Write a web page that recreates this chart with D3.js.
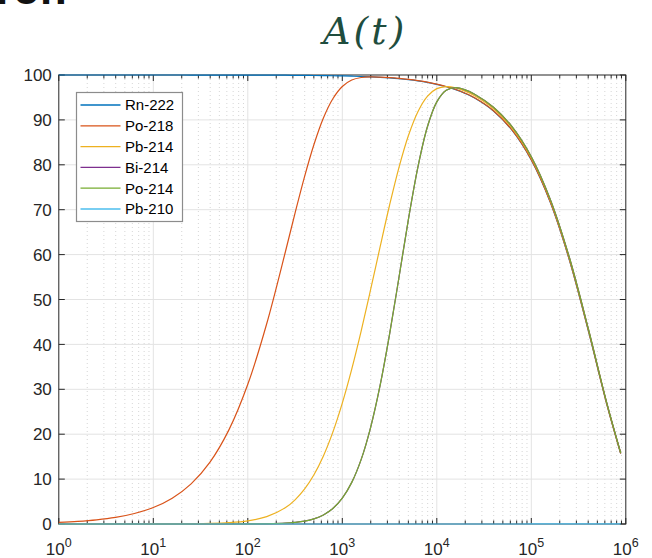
<!DOCTYPE html>
<html>
<head>
<meta charset="utf-8">
<script src="https://cdn.jsdelivr.net/npm/d3@7"></script>
<style>
  body { margin: 0; background: #fff; }
  svg { display: block; font-family: "Liberation Sans", Arial, sans-serif; }
</style>
</head>
<body>
<script>
// time samples (s), read on a log axis
const times = [1, 1.585, 2.512, 3.981, 6.31, 10, 15.85, 25.12, 39.81, 63.1,
  100, 158.5, 251.2,
  316.2, 398.1, 501.2, 631, 794.3, 1000, 1259, 1585, 1995, 2512, 3162, 3981, 5012, 6310, 7943,
  1e4, 12590, 15850, 19950,
  25120, 39810, 63100, 1e5, 158500, 251200, 398100, 631000, 883000];

const rn222 = [100, 100, 100, 100, 100, 100, 100, 99.99, 99.99, 99.99,
  99.98, 99.97, 99.95,
  99.93, 99.92, 99.89, 99.87, 99.83, 99.79, 99.74, 99.67, 99.58, 99.47, 99.34, 99.17, 98.95, 98.68, 98.35,
  97.92, 97.39, 96.73, 95.9,
  94.87, 91.99, 87.6, 81.07, 71.71, 59.03, 43.37, 26.61, 15.7];
const po218 = [0.37, 0.59, 0.93, 1.47, 2.33, 3.66, 5.74, 8.94, 13.79, 20.96,
  31.12, 44.6, 60.8,
  69.23, 77.32, 84.52, 90.43, 94.72, 97.45, 98.88, 99.45, 99.58, 99.52, 99.4, 99.23, 99.01, 98.74, 98.41,
  97.97, 97.44, 96.78, 95.95,
  94.92, 92.04, 87.65, 81.12, 71.75, 59.06, 43.39, 26.62, 15.71];
const pb214 = [0, 0, 0, 0, 0, 0.01, 0.02, 0.05, 0.12, 0.29,
  0.7, 1.63, 3.65,
  5.38, 7.76, 10.96, 15.16, 20.46, 26.93, 34.5, 43.02, 52.23, 61.72, 70.99, 79.44, 86.52, 91.83, 95.24,
  96.96, 97.43, 97.14, 96.4,
  95.39, 92.49, 88.08, 81.51, 72.1, 59.35, 43.61, 26.76, 15.79];
const bi214 = [0, 0, 0, 0, 0, 0, 0, 0, 0, 0,
  0.02, 0.05, 0.18,
  0.35, 0.63, 1.15, 2.01, 3.45, 5.76, 9.27, 14.4, 21.54, 30.85, 42.22, 54.95, 67.89, 79.49, 88.41,
  94.01, 96.6, 97.18, 96.7,
  95.72, 92.83, 88.4, 81.81, 72.36, 59.57, 43.76, 26.85, 15.85];
const po214 = [0, 0, 0, 0, 0, 0, 0, 0, 0, 0,
  0.02, 0.05, 0.18,
  0.35, 0.63, 1.15, 2.01, 3.45, 5.76, 9.27, 14.4, 21.54, 30.85, 42.22, 54.95, 67.89, 79.49, 88.41,
  94.01, 96.6, 97.18, 96.7,
  95.72, 92.83, 88.4, 81.81, 72.36, 59.57, 43.76, 26.85, 15.85];
const pb210 = [0, 0, 0, 0, 0, 0, 0, 0, 0, 0,
  0, 0, 0,
  0, 0, 0, 0, 0, 0, 0, 0, 0, 0, 0, 0, 0, 0, 0,
  0, 0, 0, 0,
  0, 0, 0, 0.01, 0.01, 0.02, 0.03, 0.03, 0.04];

const seriesNames = ['Rn-222', 'Po-218', 'Pb-214', 'Bi-214', 'Po-214', 'Pb-210'];
const seriesValues = [rn222, po218, pb214, bi214, po214, pb210];
const colors = ['#0072BD', '#D95319', '#EDB120', '#7E2F8E', '#77AC30', '#4DBEEE'];

const yTicks = [0, 10, 20, 30, 40, 50, 60, 70, 80, 90, 100];
const xMajor = [1, 10, 100, 1000, 1e4, 1e5, 1e6];
const xExponents = ['0', '1', '2', '3', '4', '5', '6'];

const W = 652, H = 558;
const plotL = 58.8, plotR = 625.8, plotT = 75, plotB = 524;

const svg = d3.select('body').append('svg')
  .attr('width', W).attr('height', H)
  .attr('viewBox', `0 0 ${W} ${H}`);

svg.append('rect').attr('width', W).attr('height', H).attr('fill', '#fff');

const x = d3.scaleLog().domain([1, 1e6]).range([plotL, plotR]);
const y = d3.scaleLinear().domain([0, 100]).range([plotB, plotT]);

// cut-off text from the slide above
svg.append('text')
  .attr('x', -4).attr('y', 4)
  .attr('font-size', 44).attr('font-weight', 'bold')
  .attr('fill', '#111')
  .text('ror.');

// title
svg.append('text')
  .attr('x', 323).attr('y', 44)
  .attr('font-family', '"DejaVu Serif", serif')
  .attr('font-style', 'italic')
  .attr('font-size', 38)
  .attr('letter-spacing', 3)
  .attr('fill', '#1f4d3e')
  .text('A(t)');

// grid
const minor = x.ticks().filter(t => !xMajor.includes(t));
const grid = svg.append('g');
grid.selectAll('line.minor').data(minor).join('line')
  .attr('class', 'minor')
  .attr('x1', d => x(d)).attr('x2', d => x(d))
  .attr('y1', plotT).attr('y2', plotB)
  .attr('stroke', '#d6d6d6').attr('stroke-width', 1)
  .attr('stroke-dasharray', '1,3');
grid.selectAll('line.vx').data(xMajor.slice(1, -1)).join('line')
  .attr('class', 'vx')
  .attr('x1', d => x(d)).attr('x2', d => x(d))
  .attr('y1', plotT).attr('y2', plotB)
  .attr('stroke', '#e3e3e3').attr('stroke-width', 1);
grid.selectAll('line.hy').data(yTicks.slice(1, -1)).join('line')
  .attr('class', 'hy')
  .attr('x1', plotL).attr('x2', plotR)
  .attr('y1', d => y(d)).attr('y2', d => y(d))
  .attr('stroke', '#e3e3e3').attr('stroke-width', 1);

// box and ticks
const ax = svg.append('g').attr('stroke', '#262626').attr('stroke-width', 1);
ax.append('rect')
  .attr('x', plotL).attr('y', plotT)
  .attr('width', plotR - plotL).attr('height', plotB - plotT)
  .attr('fill', 'none');
[plotB, plotT].forEach(edge => {
  const dir = edge === plotB ? -1 : 1;
  ax.selectAll(null).data(minor).join('line')
    .attr('x1', d => x(d)).attr('x2', d => x(d))
    .attr('y1', edge).attr('y2', edge + dir * 3.5);
  ax.selectAll(null).data(xMajor).join('line')
    .attr('x1', d => x(d)).attr('x2', d => x(d))
    .attr('y1', edge).attr('y2', edge + dir * 6);
});
[plotL, plotR].forEach(edge => {
  const dir = edge === plotL ? 1 : -1;
  ax.selectAll(null).data(yTicks).join('line')
    .attr('x1', edge).attr('x2', edge + dir * 6)
    .attr('y1', d => y(d)).attr('y2', d => y(d));
});

// tick labels
svg.append('g').selectAll('text').data(yTicks).join('text')
  .attr('x', plotL - 7).attr('y', d => y(d))
  .attr('dy', '0.36em')
  .attr('text-anchor', 'end')
  .attr('font-size', 17).attr('fill', '#262626')
  .text(d => d);

const xl = svg.append('g').selectAll('text').data(xMajor).join('text')
  .attr('x', d => x(d)).attr('y', 555)
  .attr('text-anchor', 'middle')
  .attr('font-size', 17).attr('fill', '#262626');
xl.append('tspan').text('10');
xl.append('tspan').attr('dy', -8).attr('font-size', 12.5)
  .text((d, i) => xExponents[i]);

// curves
const line = d3.line()
  .x((d, i) => x(times[i]))
  .y(d => y(d))
  .curve(d3.curveCatmullRom);

svg.append('g').selectAll('path').data(seriesValues).join('path')
  .attr('d', d => line(d))
  .attr('fill', 'none')
  .attr('stroke', (d, i) => colors[i])
  .attr('stroke-width', 1.2);

// legend
const lg = svg.append('g');
lg.append('rect')
  .attr('x', 76.5).attr('y', 92.5)
  .attr('width', 106).attr('height', 129)
  .attr('fill', '#fff')
  .attr('stroke', '#8c8c8c').attr('stroke-width', 1.2);
const rows = lg.selectAll('g').data(seriesNames).join('g')
  .attr('transform', (d, i) => `translate(0, ${105 + i * 20.8})`);
rows.append('line')
  .attr('x1', 80.5).attr('x2', 120.5)
  .attr('stroke', (d, i) => colors[i])
  .attr('stroke-width', 1.3);
rows.append('text')
  .attr('x', 125).attr('dy', '0.36em')
  .attr('font-size', 15).attr('fill', '#000')
  .text(d => d);
</script>
</body>
</html>
